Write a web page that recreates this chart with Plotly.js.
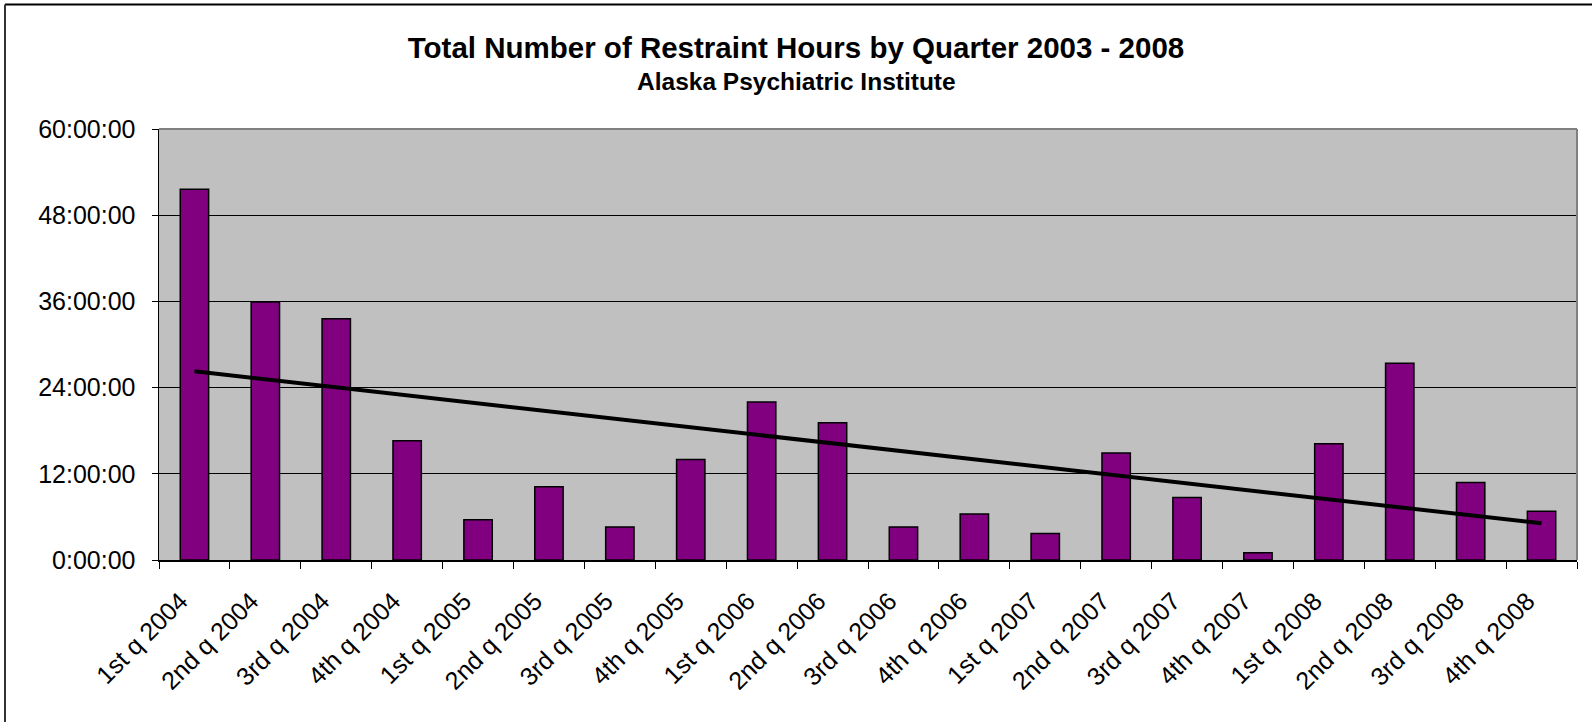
<!DOCTYPE html>
<html>
<head>
<meta charset="utf-8">
<script src="https://cdn.plot.ly/plotly-3.0.1.min.js"></script>
<style>
  html, body { margin: 0; padding: 0; background: #ffffff; }
  #chart { width: 1592px; height: 722px; }
</style>
</head>
<body>
<div id="chart"></div>
<script>
// ---- data (values in hours) ----
const quarters = [
  '1st q 2004', '2nd q 2004', '3rd q 2004', '4th q 2004',
  '1st q 2005', '2nd q 2005', '3rd q 2005', '4th q 2005',
  '1st q 2006', '2nd q 2006', '3rd q 2006', '4th q 2006',
  '1st q 2007', '2nd q 2007', '3rd q 2007', '4th q 2007',
  '1st q 2008', '2nd q 2008', '3rd q 2008', '4th q 2008'
];
const restraintHours = [
  51.6, 35.9, 33.6, 16.6,
  5.6, 10.2, 4.6, 14.0,
  22.0, 19.1, 4.6, 6.4,
  3.7, 14.9, 8.7, 1.0,
  16.2, 27.4, 10.8, 6.8
];
const yTickVals = [0, 12, 24, 36, 48, 60];
const yTickText = ['0:00:00', '12:00:00', '24:00:00', '36:00:00', '48:00:00', '60:00:00'];

const titleText = 'Total Number of Restraint Hours by Quarter 2003 - 2008';
const subtitleText = 'Alaska Psychiatric Institute';

// ---- linear trendline (least squares over category index) ----
const n = restraintHours.length;
const xs = restraintHours.map((_, i) => i + 1);
const mx = xs.reduce((a, b) => a + b, 0) / n;
const my = restraintHours.reduce((a, b) => a + b, 0) / n;
let sxy = 0, sxx = 0;
for (let i = 0; i < n; i++) { sxy += (xs[i] - mx) * (restraintHours[i] - my); sxx += (xs[i] - mx) ** 2; }
const slope = sxy / sxx;
const intercept = my - slope * mx;
const trendX = [quarters[0], quarters[n - 1]];
const trendY = [intercept + slope * xs[0], intercept + slope * xs[n - 1]];

// ---- layout geometry ----
const W = 1592, H = 722;
const L = 159, R = 15, T = 129, B = 162;
const pw = W - L - R, ph = H - T - B;
const px = v => (v - L) / pw;          // page x -> paper x
const py = v => (H - B - v) / ph;      // page y -> paper y

const FONT = 'Liberation Sans, Arial, sans-serif';

const traces = [
  {
    type: 'bar',
    x: quarters,
    y: restraintHours,
    marker: { color: '#800080', line: { color: '#000000', width: 1.5 } },
    hoverinfo: 'x+y'
  },
  {
    type: 'scatter',
    mode: 'lines',
    x: trendX,
    y: trendY,
    line: { color: '#000000', width: 4 },
    hoverinfo: 'skip'
  }
];

const layout = {
  width: W, height: H,
  margin: { l: L, r: R, t: T, b: B, pad: 0 },
  paper_bgcolor: '#ffffff',
  plot_bgcolor: '#C0C0C0',
  showlegend: false,
  bargap: 0.6,
  font: { family: FONT, color: '#000000' },
  title: {
    text: '<b>' + titleText + '</b>',
    font: { family: FONT, size: 29.5, color: '#000000' },
    xref: 'container', x: 0.5, xanchor: 'center',
    yref: 'container', y: 1 - 48 / H, yanchor: 'middle'
  },
  annotations: [
    {
      text: '<b>' + subtitleText + '</b>',
      xref: 'paper', yref: 'paper',
      x: px(796), y: py(81), xanchor: 'center', yanchor: 'middle',
      showarrow: false,
      font: { family: FONT, size: 24.5, color: '#000000' }
    }
  ],
  xaxis: {
    type: 'category',
    showgrid: false,
    showline: true, linecolor: '#000000', linewidth: 1.5,
    ticks: 'outside', tickson: 'boundaries', ticklen: 7, tickcolor: '#000000', tickwidth: 1,
    tickangle: -45,
    tickfont: { family: FONT, size: 25, color: '#000000' },
    ticklabelstandoff: 15,
    ticklabelshift: -14,
    zeroline: false,
    fixedrange: true
  },
  yaxis: {
    range: [0, 60],
    tickmode: 'array',
    tickvals: yTickVals,
    ticktext: yTickText,
    showgrid: true, gridcolor: '#000000', gridwidth: 1,
    showline: true, linecolor: '#000000', linewidth: 1.5,
    ticks: 'outside', ticklen: 6, tickcolor: '#000000', tickwidth: 1,
    tickfont: { family: FONT, size: 25, color: '#000000' },
    ticklabelstandoff: 11,
    zeroline: false,
    fixedrange: true
  },
  shapes: [
    // plot area border (top and right, gray)
    { type: 'line', xref: 'paper', yref: 'paper', x0: 0, x1: 1, y0: 1, y1: 1,
      line: { color: '#808080', width: 2 }, layer: 'above' },
    { type: 'line', xref: 'paper', yref: 'paper', x0: 1, x1: 1, y0: 0, y1: 1,
      line: { color: '#808080', width: 2 }, layer: 'above' },
    // outer chart frame
    { type: 'line', xref: 'paper', yref: 'paper', x0: px(5), x1: px(1600), y0: py(4.5), y1: py(4.5),
      line: { color: '#000000', width: 2 }, layer: 'above' },
    { type: 'line', xref: 'paper', yref: 'paper', x0: px(5), x1: px(5), y0: py(4.5), y1: py(730),
      line: { color: '#333333', width: 2 }, layer: 'above' }
  ]
};

Plotly.newPlot('chart', traces, layout, { displayModeBar: false, staticPlot: true });
</script>
</body>
</html>
